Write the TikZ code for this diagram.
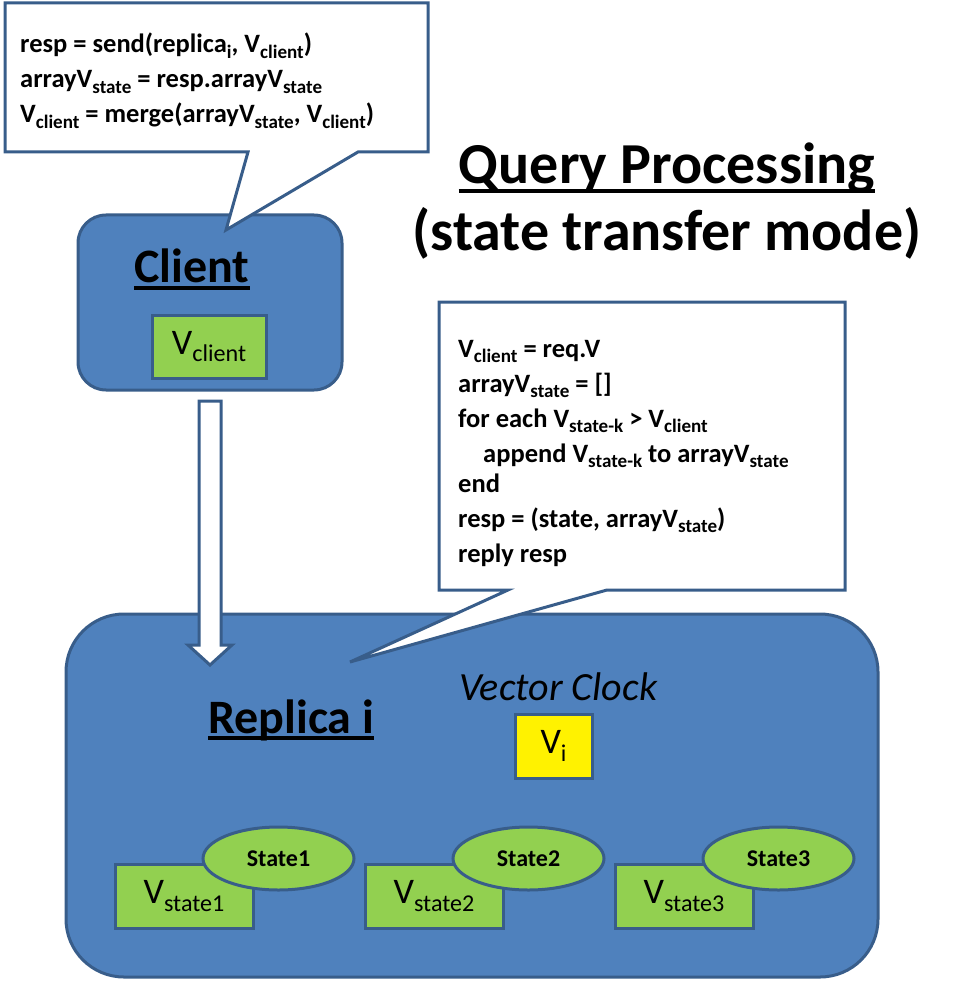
\documentclass[tikz,border=0pt]{standalone}
\usepackage{fontspec}
\setmainfont{Carlito}
\usetikzlibrary{shapes.geometric,calc}
\definecolor{bfill}{HTML}{4F81BD}
\definecolor{bline}{HTML}{385D8A}
\definecolor{gfill}{HTML}{92D050}
\newcommand\sbs[1]{\raisebox{-0.22em}{\scalebox{0.67}{#1}}}
\newcommand\csb[1]{\raisebox{-0.2em}{\scalebox{0.72}{#1}}}
\begin{document}
\begin{tikzpicture}[x=1pt,y=-1pt,
  bluebox/.style={draw=bline,fill=bfill,line width=3pt},
  greenbox/.style={draw=bline,fill=gfill,line width=3pt,inner sep=0pt,font=\fontsize{36}{40}\selectfont},
  yellowbox/.style={draw=bline,fill=yellow,line width=3pt,inner sep=0pt,font=\fontsize{36}{40}\selectfont},
  stateell/.style={ellipse,draw=bline,fill=gfill,line width=3pt,inner sep=0pt,minimum width=151pt,minimum height=63pt,font=\fontsize{24}{28}\selectfont\bfseries},
  callout/.style={draw=bline,fill=white,line width=3pt,line join=miter},
  codeline/.style={anchor=base west,inner sep=0pt,font=\fontsize{26.5}{30}\selectfont\bfseries},
  heading/.style={inner sep=0pt,font=\fontsize{48}{56}\selectfont\bfseries},
  titletext/.style={anchor=base,inner sep=0pt,font=\fontsize{58}{68}\selectfont\bfseries},
  uline/.style={line width=3.5pt}
]
\useasboundingbox (0,0) rectangle (958,981);

% Client box
\node[bluebox,rounded corners=28pt,minimum width=264pt,minimum height=175pt] (client) at (210,302.5) {};
\node[heading,anchor=base] (clientlbl) at (192,283) {Client};
\draw[uline] ([yshift=-5pt]clientlbl.base west) -- ([yshift=-5pt]clientlbl.base east);
\node[greenbox,minimum width=114pt,minimum height=63pt] (vclient) at (209,346.5) {V\sbs{client}};

% Top callout
\draw[callout] (5,3) -- (428,3) -- (428,152) -- (358,152) -- (226,230) -- (248,152) -- (5,152) -- cycle;
\node[codeline] (c1) at (20,53) {resp = send(replica\csb{i}, V\csb{client})};
\node[codeline] (c2) at (20,88) {arrayV\csb{state} = resp.arrayV\csb{state}};
\node[codeline] (c3) at (20,123) {V\csb{client} = merge(arrayV\csb{state}, V\csb{client})};

% Title
\node[titletext] (title1) at (667,184) {Query Processing};
\draw[uline] ([yshift=-7pt]title1.base west) -- ([yshift=-7pt]title1.base east);
\node[titletext] (title2) at (667,251) {(state transfer mode)};

% Replica box
\node[bluebox,rounded corners=58pt,minimum width=812pt,minimum height=363pt] (replica) at (472,795.5) {};

% Hollow arrow from client to replica
\coordinate (atop) at (210,401);
\coordinate (atip) at (210,665);
\draw[draw=bline,fill=white,line width=3pt,line join=miter]
  ($(atop)+(-11,0)$) -- ($(atop)+(11,0)$) -- ($(atip)+(11,-20)$) -- ($(atip)+(22,-20)$)
  -- (atip) -- ($(atip)+(-22,-20)$) -- ($(atip)+(-11,-20)$) -- cycle;

% Right callout
\draw[callout] (439,302) -- (845,302) -- (845,590) -- (607,590) -- (350,662) -- (508,590) -- (439,590) -- cycle;
\node[codeline] (r1) at (458,357) {V\csb{client} = req.V};
\node[codeline] (r2) at (458,392) {arrayV\csb{state} = []};
\node[codeline] (r3) at (458,427) {for each V\csb{state-k} > V\csb{client}};
\node[codeline] (r4) at (483,462) {append V\csb{state-k} to arrayV\csb{state}};
\node[codeline] (r5) at (458,492) {end};
\node[codeline] (r6) at (458,527) {resp = (state, arrayV\csb{state})};
\node[codeline] (r7) at (458,562) {reply resp};

% Replica contents
\node[heading,anchor=base west] (replbl) at (208,733) {Replica i};
\draw[uline] ([yshift=-5pt]replbl.base west) -- ([yshift=-5pt]replbl.base east);
\node[anchor=base west,inner sep=0pt,font=\fontsize{40}{46}\selectfont\itshape] (vc) at (459,700) {Vector Clock};
\node[yellowbox,minimum width=77pt,minimum height=64pt] (vi) at (553.5,746) {V\sbs{i}};

\foreach \k in {1,2,3}{
  \node[greenbox,minimum width=138pt,minimum height=64pt] (vs\k) at ({184+250*(\k-1)},896) {V\sbs{state\k}};
  \node[stateell] (st\k) at ({278.5+250*(\k-1)},858.5) {State\k};
}
\end{tikzpicture}
\end{document}
